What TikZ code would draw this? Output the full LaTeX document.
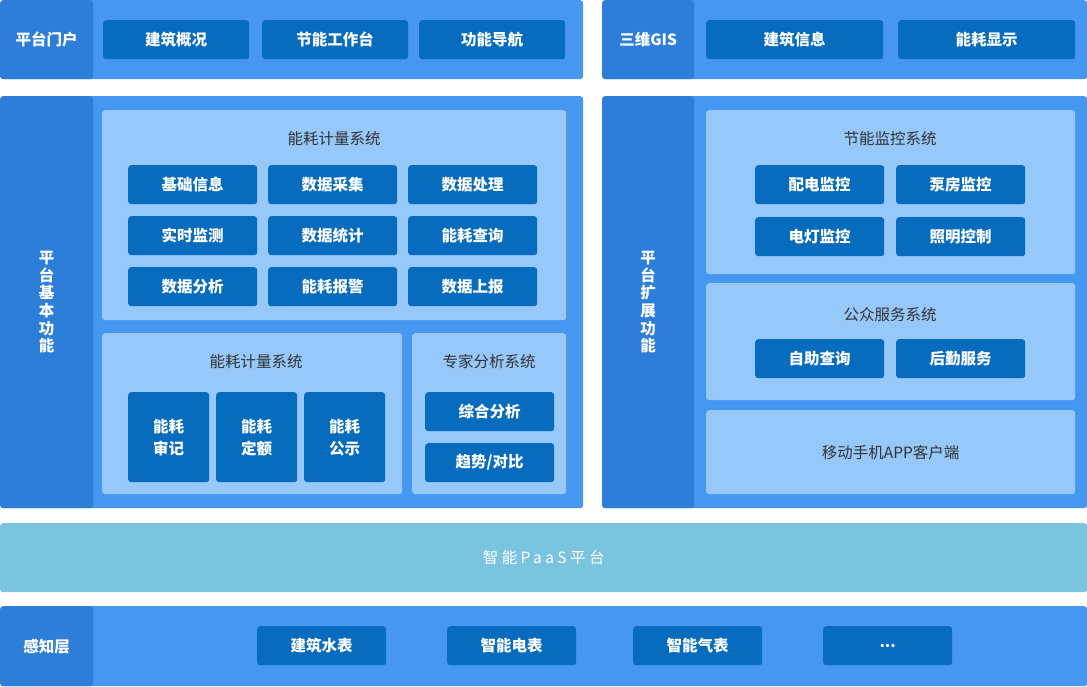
\documentclass[tikz,border=0pt]{standalone}
\usepackage{fontspec}
\setmainfont{Noto Sans CJK SC}
\usepackage{xcolor}
\usetikzlibrary{positioning}
\definecolor{panelblue}{RGB}{69,151,240}
\definecolor{colblue}{RGB}{45,126,216}
\definecolor{subblue}{RGB}{150,200,250}
\definecolor{btnblue}{RGB}{8,108,190}
\definecolor{paasblue}{RGB}{122,196,224}
\definecolor{titlegrey}{RGB}{51,51,51}
\tikzset{
  box/.style={anchor=north west,inner sep=0pt,rounded corners=3pt},
  panel/.style={box,fill=panelblue},
  labelcol/.style={box,fill=colblue,text=white,align=center,
    font=\bfseries\fontsize{15.5}{17.7}\selectfont},
  subpanel/.style={box,fill=subblue},
  btn/.style={box,fill=btnblue,text=white,align=center,
    font=\bfseries\fontsize{15.5}{22}\selectfont},
  ttl/.style={text=titlegrey,font=\fontsize{15.5}{18}\selectfont}
}
\begin{document}
\begin{tikzpicture}[x=1pt,y=-1pt]
      \useasboundingbox (0,0) rectangle (1087,686);

      % top row
      \node[panel,minimum width=583,minimum height=79] (portal) at (0,0) {};
      \node[labelcol,minimum width=93,minimum height=79] (portallbl) at (0,0) {平台门户};
      \node[btn,minimum width=146,minimum height=39] (jzgk) at (103,20) {建筑概况};
      \node[btn,minimum width=146,minimum height=39] (jngzt) at (262,20) {节能工作台};
      \node[btn,minimum width=146,minimum height=39] (gndh) at (419,20) {功能导航};

      \node[panel,minimum width=485,minimum height=79] (gis) at (602,0) {};
      \node[labelcol,minimum width=92,minimum height=79] (gislbl) at (602,0) {三维GIS};
      \node[btn,minimum width=177,minimum height=39] (jzxx) at (706,20) {建筑信息};
      \node[btn,minimum width=177,minimum height=39] (nhxs) at (898,20) {能耗显示};

      % basic functions
      \node[panel,minimum width=583,minimum height=412] (basic) at (0,96) {};
      \node[labelcol,minimum width=93,minimum height=412] (basiclbl) at (0,96) {平\\台\\基\\本\\功\\能};

      \node[subpanel,minimum width=464,minimum height=210] (metering) at (102,110) {};
      \node[ttl] (meteringttl) at (334,139) {能耗计量系统};
      \node[btn,minimum width=129,minimum height=39] (jcxx) at (128,165) {基础信息};
      \node[btn,minimum width=129,minimum height=39] (sjcj) at (268,165) {数据采集};
      \node[btn,minimum width=129,minimum height=39] (sjcl) at (408,165) {数据处理};
      \node[btn,minimum width=129,minimum height=39] (ssjc) at (128,216) {实时监测};
      \node[btn,minimum width=129,minimum height=39] (sjtj) at (268,216) {数据统计};
      \node[btn,minimum width=129,minimum height=39] (nhcx) at (408,216) {能耗查询};
      \node[btn,minimum width=129,minimum height=39] (sjfx) at (128,267) {数据分析};
      \node[btn,minimum width=129,minimum height=39] (nhbj) at (268,267) {能耗报警};
      \node[btn,minimum width=129,minimum height=39] (sjsb) at (408,267) {数据上报};

      \node[subpanel,minimum width=300,minimum height=161] (metering2) at (102,333) {};
      \node[ttl] (metering2ttl) at (256,362) {能耗计量系统};
      \node[btn,minimum width=81,minimum height=90] (nhsj) at (128,392) {能耗\\审记};
      \node[btn,minimum width=81,minimum height=90] (nhde) at (216,392) {能耗\\定额};
      \node[btn,minimum width=81,minimum height=90] (nhgs) at (304,392) {能耗\\公示};

      \node[subpanel,minimum width=154,minimum height=161] (expert) at (412,333) {};
      \node[ttl] (expertttl) at (489,362) {专家分析系统};
      \node[btn,minimum width=129,minimum height=39] (zhfx) at (425,392) {综合分析};
      \node[btn,minimum width=129,minimum height=39] (qsdb) at (425,443) {趋势/对比};

      % extended functions
      \node[panel,minimum width=485,minimum height=412] (ext) at (602,96) {};
      \node[labelcol,minimum width=92,minimum height=412] (extlbl) at (602,96) {平\\台\\扩\\展\\功\\能};

      \node[subpanel,minimum width=369,minimum height=164] (monitor) at (706,110) {};
      \node[ttl] (monitorttl) at (890,139) {节能监控系统};
      \node[btn,minimum width=129,minimum height=39] (pdjk) at (755,165) {配电监控};
      \node[btn,minimum width=129,minimum height=39] (bfjk) at (896,165) {泵房监控};
      \node[btn,minimum width=129,minimum height=39] (ddjk) at (755,217) {电灯监控};
      \node[btn,minimum width=129,minimum height=39] (zmkz) at (896,217) {照明控制};

      \node[subpanel,minimum width=369,minimum height=117] (public) at (706,283) {};
      \node[ttl] (publicttl) at (890,315) {公众服务系统};
      \node[btn,minimum width=129,minimum height=39] (zzcx) at (755,339) {自助查询};
      \node[btn,minimum width=129,minimum height=39] (hqfw) at (896,339) {后勤服务};

      \node[subpanel,minimum width=369,minimum height=84,text=titlegrey,
        font=\fontsize{15.5}{18}\selectfont] (app) at (706,410) {移动手机APP客户端};

      % PaaS
      \node[box,fill=paasblue,minimum width=1087,minimum height=69,text=white,
        font=\addfontfeature{LetterSpace=22}\fontsize{15.5}{18}\selectfont] (paas) at (0,523) {智能PaaS平台};

      % perception layer
      \node[panel,minimum width=1087,minimum height=80] (sense) at (0,606) {};
      \node[labelcol,minimum width=93,minimum height=80] (senselbl) at (0,606) {感知层};
      \node[btn,minimum width=129,minimum height=39] (jzsb) at (257,626) {建筑水表};
      \node[btn,minimum width=129,minimum height=39] (zndb) at (447,626) {智能电表};
      \node[btn,minimum width=129,minimum height=39] (znqb) at (633,626) {智能气表};
      \node[btn,minimum width=129,minimum height=39] (more) at (823,626) {...};

    \end{tikzpicture}
\end{document}
